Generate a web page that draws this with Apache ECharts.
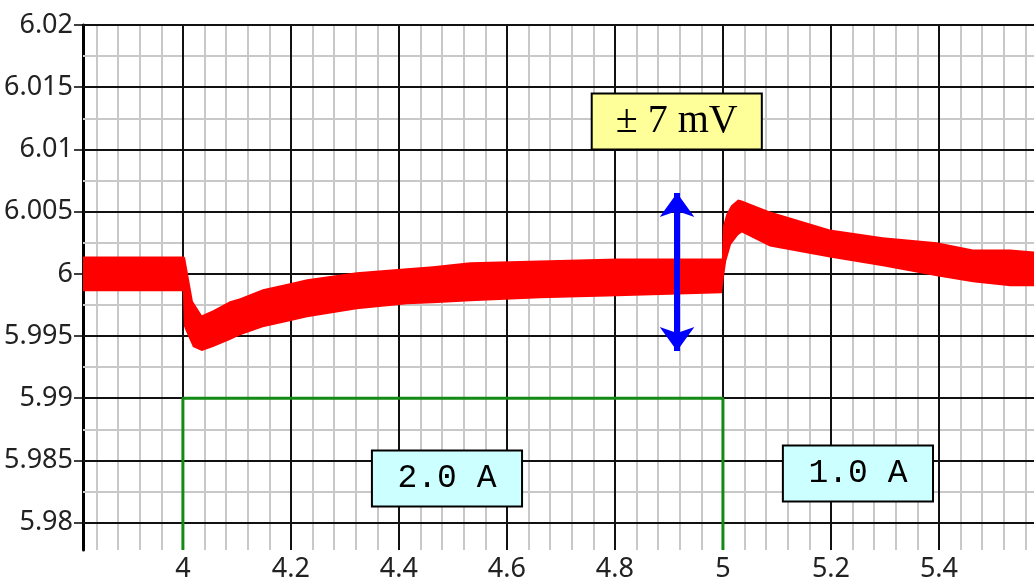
<!DOCTYPE html>
<html>
<head>
<meta charset="utf-8">
<script src="https://cdn.jsdelivr.net/npm/echarts@6/dist/echarts.min.js"></script>
<style>
html, body { margin: 0; padding: 0; background: #fff; }
#chart { width: 1034px; height: 583px; }
</style>
</head>
<body>
<div id="chart"></div>
<script>
// output voltage ripple band (upper / lower edge of the trace), volts
const bandX = [3.815, 4.0, 4.002, 4.004, 4.0185, 4.035, 4.056, 4.087, 4.106, 4.148, 4.198, 4.23, 4.322, 4.415, 4.463, 4.532, 4.661, 4.804, 4.998, 5.0, 5.006, 5.015, 5.028, 5.035, 5.087, 5.198, 5.296, 5.396, 5.463, 5.532, 5.576];
const bandUpper = [6.0014, 6.0014, 6.0014, 6.00132, 5.9978, 5.99667, 5.99707, 5.9978, 5.99804, 5.99876, 5.99924, 5.99956, 6.00012, 6.00044, 6.0006, 6.00092, 6.00108, 6.00124, 6.00124, 6.00381, 6.00477, 6.00549, 6.00597, 6.00589, 6.00501, 6.00357, 6.00293, 6.00253, 6.00196, 6.00196, 6.0018];
const bandLower = [5.9986, 5.9986, 5.99579, 5.99555, 5.99411, 5.99379, 5.99411, 5.99467, 5.99507, 5.99571, 5.99619, 5.99651, 5.99715, 5.99756, 5.99764, 5.9978, 5.99804, 5.9982, 5.99844, 5.99916, 6.001, 6.00236, 6.00309, 6.00333, 6.0022, 6.00132, 6.0006, 5.9998, 5.99932, 5.999, 5.999];

// load current step, drawn on the voltage scale
const loadX = [4, 4, 5, 5];
const loadY = [5.9778, 5.99, 5.99, 5.9778];

// axis ticks
const xTicks = [4, 4.2, 4.4, 4.6, 4.8, 5, 5.2, 5.4];
const yTicks = [5.98, 5.985, 5.99, 5.995, 6, 6.005, 6.01, 6.015, 6.02];
const xMinor = [3.84, 3.88, 3.92, 3.96, 4.04, 4.08, 4.12, 4.16, 4.24, 4.28, 4.32, 4.36, 4.44, 4.48, 4.52, 4.56,
  4.64, 4.68, 4.72, 4.76, 4.84, 4.88, 4.92, 4.96, 5.04, 5.08, 5.12, 5.16, 5.24, 5.28, 5.32, 5.36, 5.44, 5.48, 5.52, 5.56];
const yMinor = [5.9825, 5.9875, 5.9925, 5.9975, 6.0025, 6.0075, 6.0125, 6.0175];

// annotations
const arrowX = 4.915;
const arrowY = [6.0065, 5.9938];
const boxLabels = ['± 7 mV', '2.0 A', '1.0 A'];
const boxX = [[4.757, 5.072], [4.35, 4.628], [5.111, 5.389]];
const boxY = [[6.0145, 6.0100], [5.9858, 5.9813], [5.9862, 5.9817]];

const xMin = 3.815, xMax = 5.576, yMin = 5.9778, yMax = 6.02;

// grid segments spanning the plot
function gridSegs(xs, ys) {
  const segs = [];
  xs.forEach(v => segs.push({ coords: [[v, yMin], [v, yMax]] }));
  ys.forEach(v => segs.push({ coords: [[xMin, v], [xMax, v]] }));
  return segs;
}

const boxFills = ['#ffff99', '#ccffff', '#ccffff'];
const boxFonts = [
  { fontFamily: 'Liberation Serif', fontSize: 40 },
  { fontFamily: 'Liberation Mono', fontSize: 33 },
  { fontFamily: 'Liberation Mono', fontSize: 33 }
];
const boxAreas = boxLabels.map((t, i) => [
  {
    name: t,
    xAxis: boxX[i][0],
    yAxis: boxY[i][0],
    itemStyle: { color: boxFills[i], borderColor: '#000', borderWidth: 2, opacity: 1 },
    label: Object.assign({ show: true, position: 'inside', color: '#000', formatter: t }, boxFonts[i])
  },
  { xAxis: boxX[i][1], yAxis: boxY[i][1] }
]);

const chart = echarts.init(document.getElementById('chart'));

// narrow sans for tick labels (stretch keyword rides in the font string)
const tickFont = {
  fontFamily: "'Noto Sans Condensed', 'Noto Sans', sans-serif",
  fontWeight: 'condensed',
  fontSize: 27,
  color: '#222'
};

chart.setOption({
  animation: false,
  grid: { left: 83, right: 0, top: 25, bottom: 31, containLabel: false },
  xAxis: {
    type: 'value',
    min: xMin,
    max: xMax,
    axisLine: { show: false },
    axisTick: { show: false, customValues: xTicks },
    splitLine: { show: false },
    axisLabel: Object.assign({ customValues: xTicks, margin: 6, formatter: v => String(v) }, tickFont)
  },
  yAxis: {
    type: 'value',
    min: yMin,
    max: yMax,
    axisLine: { show: true, lineStyle: { color: '#000', width: 3 } },
    axisTick: { show: true, customValues: yTicks, length: 9, lineStyle: { color: '#000', width: 1.5 } },
    splitLine: { show: false },
    axisLabel: Object.assign({ customValues: yTicks, margin: 10, formatter: v => String(v) }, tickFont)
  },
  series: [
    {
      name: 'minor grid',
      type: 'lines',
      coordinateSystem: 'cartesian2d',
      z: 1,
      silent: true,
      lineStyle: { color: '#c8c8c8', width: 2, opacity: 1 },
      data: gridSegs(xMinor, yMinor)
    },
    {
      name: 'major grid',
      type: 'lines',
      coordinateSystem: 'cartesian2d',
      z: 1,
      silent: true,
      lineStyle: { color: '#111', width: 2, opacity: 1 },
      data: gridSegs(xTicks, yTicks)
    },
    {
      name: 'voltage',
      type: 'custom',
      z: 3,
      clip: true,
      data: [[bandX[0], bandUpper[0]]],
      renderItem: function (params, api) {
        const pts = [];
        for (let i = 0; i < bandX.length; i++) pts.push(api.coord([bandX[i], bandUpper[i]]));
        for (let i = bandX.length - 1; i >= 0; i--) pts.push(api.coord([bandX[i], bandLower[i]]));
        return { type: 'polygon', shape: { points: pts }, style: { fill: '#ff0000' } };
      }
    },
    {
      name: 'current',
      type: 'line',
      z: 4,
      symbol: 'none',
      data: loadX.map((x, i) => [x, loadY[i]]),
      lineStyle: { color: '#138a13', width: 3 }
    },
    {
      name: 'notes',
      type: 'line',
      z: 5,
      symbol: 'none',
      data: [],
      markArea: { z: 6, silent: true, data: boxAreas },
      markLine: {
        z: 7,
        silent: true,
        symbol: ['arrow', 'arrow'],
        symbolSize: [26, 24],
        label: { show: false },
        lineStyle: { color: '#0000ff', width: 6, type: 'solid' },
        data: [[{ xAxis: arrowX, yAxis: arrowY[0] }, { xAxis: arrowX, yAxis: arrowY[1] }]]
      }
    }
  ]
});
</script>
</body>
</html>
